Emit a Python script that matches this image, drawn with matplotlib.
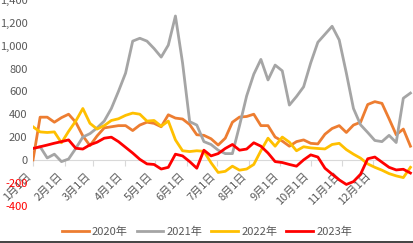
import matplotlib.pyplot as plt
from matplotlib.lines import Line2D
import numpy as np

plt.rcParams["font.family"] = ["Noto Sans CJK SC", "DejaVu Sans"]
plt.rcParams["font.size"] = 8

# weekly values, week 0 = Jan 1
y2020 = [0, 374, 374, 330, 370, 400, 330, 210, 125, 210, 280, 290, 300, 300,
         257, 305, 330, 320, 290, 395, 366, 358, 310, 220, 215, 185, 130, 190,
         330, 375, 380, 400, 300, 300, 200, 165, 120, 160, 175, 145, 140, 225,
         275, 300, 240, 305, 330, 485, 510, 495, 360, 220, 270, 120]
y2021 = [100, 115, 17, 50, -15, 8, 100, 200, 230, 280, 340, 450, 600, 760,
         1040, 1065, 1040, 975, 900, 1005, 1260, 850, 335, 305, 160, 135, 85, 55,
         55, 300, 560, 750, 880, 700, 830, 780, 480, 555, 640, 850, 1030, 1100,
         1170, 1050, 760, 450, 307, 240, 170, 160, 215, 152, 540, 585]
y2022 = [290, 245, 240, 245, 150, 250, 340, 450, 320, 270, 300, 345, 360, 390,
         410, 400, 340, 345, 295, 340, 175, 80, 73, 80, 75, -25, -110, -100,
         -55, -90, -80, -40, 80, 190, 120, 200, 155, 80, 115, 105, 100, 96,
         135, 145, 90, 50, 15, -35, -65, -90, -120, -140, -155, -65]
y2023 = [100, 115, 130, 146, 160, 175, 102, 95, 132, 155, 190, 199, 160, 110,
         60, 5, -35, -40, -80, -65, 50, 35, -15, -73, 85, 35, 55, 100, 135, 85,
         95, 150, 120, 60, -15, -23, -40, -55, 0, 44, 25, -73, -125, -175, -215,
         -190, -125, 10, 25, -20, -65, -88, -82, -115]

month_days = [0, 31, 59, 90, 120, 151, 181, 212, 243, 273, 304, 334]
month_labels = ["1月1日", "2月1日", "3月1日", "4月1日", "5月1日", "6月1日",
                "7月1日", "8月1日", "9月1日", "10月1日", "11月1日", "12月1日"]
yticks = [-400, -200, 0, 200, 400, 600, 800, 1000, 1200, 1400]

days = np.arange(len(y2020)) * 7

fig = plt.figure(figsize=(4.14, 2.43), dpi=100)
ax = fig.add_axes([33 / 414, 0.154, 1 - 33 / 414, 0.846])

ax.plot(days, y2020, color="#ED7D31", lw=2, label="2020年")
ax.plot(days, y2021, color="#A5A5A5", lw=2, label="2021年")
ax.plot(days, y2022, color="#FFC000", lw=2, label="2022年")
ax.plot(days, y2023, color="#FF0000", lw=2, label="2023年")

ax.set_xlim(0, 374.5)
ax.set_ylim(-400, 1400)

for s in ["top", "right", "left"]:
    ax.spines[s].set_visible(False)
ax.spines["bottom"].set_position(("data", 0))
ax.spines["bottom"].set_color("#D9D9D9")
ax.spines["bottom"].set_zorder(0)

ax.set_xticks(month_days)
ax.set_xticklabels(month_labels, rotation=45, ha="right", color="#595959")
ax.tick_params(axis="x", length=4, color="#D9D9D9", pad=4)

ax.set_yticks(yticks)
ax.set_yticklabels([f"{v:,}" for v in yticks], color="#595959")
ax.tick_params(axis="y", length=0, pad=4)
for lab, v in zip(ax.get_yticklabels(), yticks):
    if v < 0:
        lab.set_color("#FF0000")

fig.legend(loc="center", bbox_to_anchor=(0.5, 0.045), ncol=4, frameon=False,
           handlelength=2.4, handletextpad=0.3, columnspacing=0.8,
           labelcolor="#595959")

fig.add_artist(Line2D([0, 1], [0.006, 0.006], color="#222222", lw=1.2))

plt.savefig("out.png", dpi=100)
